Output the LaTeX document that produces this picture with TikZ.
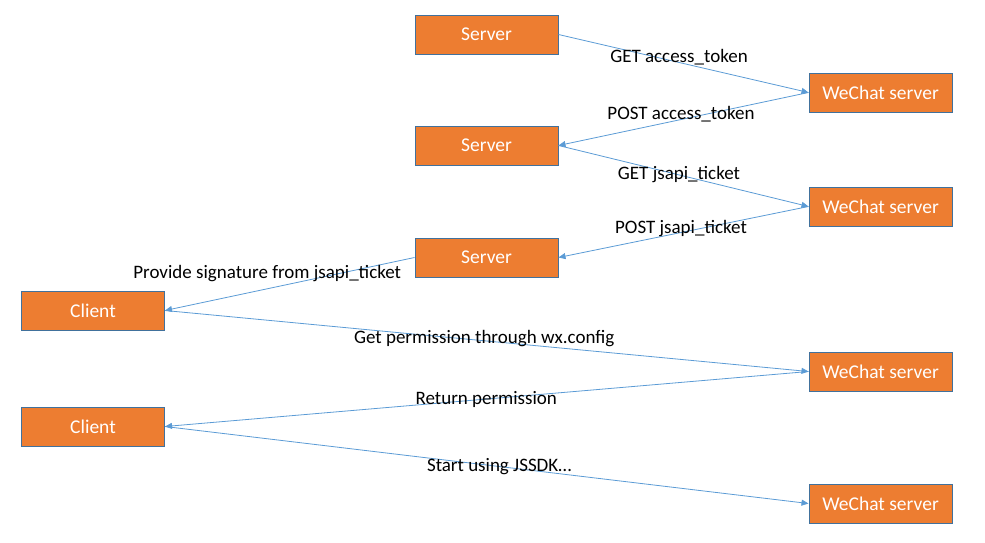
\documentclass[tikz,border=0pt]{standalone}
\usepackage{fontspec}
\setmainfont{Carlito}
\usetikzlibrary{arrows.meta}
\definecolor{boxfill}{HTML}{ED7D31}
\definecolor{boxline}{HTML}{41719C}
\definecolor{conncol}{HTML}{5B9BD5}
\begin{document}
\begin{tikzpicture}[x=1pt,y=-1pt,
  box/.style={draw=boxline, line width=1pt, fill=boxfill, minimum width=143pt, minimum height=39pt, inner sep=0pt, text=white, font=\fontsize{19.5}{23}\selectfont},
  conn/.style={draw=conncol, line width=0.8pt, -{Triangle[length=7pt,width=6pt]}},
  lbl/.style={inner sep=0pt, text=black, font=\fontsize{19}{23}\selectfont}]
\useasboundingbox (0,0) rectangle (985,542);
\node[box] (s1) at (486.5,34.5) {Server};
\node[box] (w1) at (880.5,92.5) {WeChat server};
\node[box] (s2) at (486.5,145.5) {Server};
\node[box] (w2) at (880.5,206.5) {WeChat server};
\node[box] (s3) at (486.5,257.5) {Server};
\node[box] (c1) at (93,310.5) {Client};
\node[box] (w3) at (880.5,371.5) {WeChat server};
\node[box] (c2) at (93,426.5) {Client};
\node[box] (w4) at (880.5,503.5) {WeChat server};
\draw[conn] (s1.east) -- (w1.west) node[lbl, pos=0.5, xshift=-4.5pt, yshift=6.5pt] {GET access\_token};
\draw[conn] (w1.west) -- (s2.east) node[lbl, pos=0.5, xshift=-2.5pt, yshift=5pt] {POST access\_token};
\draw[conn] (s2.east) -- (w2.west) node[lbl, pos=0.5, xshift=-4.5pt, yshift=1pt] {GET jsapi\_ticket};
\draw[conn] (w2.west) -- (s3.east) node[lbl, pos=0.5, xshift=-2.5pt, yshift=3pt] {POST jsapi\_ticket};
\draw[conn] (s3.west) -- (c1.east) node[lbl, pos=0.5, xshift=-22.5pt, yshift=10pt] {Provide signature from jsapi\_ticket};
\draw[conn] (c1.east) -- (w3.west) node[lbl, pos=0.5, xshift=-2.5pt, yshift=2pt] {Get permission through wx.config};
\draw[conn] (w3.west) -- (c2.east) node[lbl, pos=0.5, xshift=-0.5pt, yshift=0pt] {Return permission};
\draw[conn] (c2.east) -- (w4.west) node[lbl, pos=0.5, xshift=12.5pt, yshift=-2pt] {Start using JSSDK…};
\end{tikzpicture}
\end{document}
